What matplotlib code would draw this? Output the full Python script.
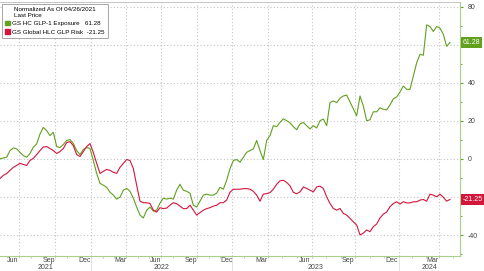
import numpy as np
import matplotlib
matplotlib.use("Agg")
import matplotlib.pyplot as plt
from matplotlib.patches import Patch
import matplotlib.transforms as mtransforms

plt.rcParams['font.family'] = ['Liberation Sans', 'DejaVu Sans']

# Normalized series (sampled per session index)
glp1 = [0.1, 0.5, 0.9, 4.4, 5.8, 5.3, 3.5, 1.8, 0.9, 2.9,
        6.2, 7.9, 13.1, 16.6, 14.9, 12.3, 14.0, 6.5, 6.0, 7.6,
        9.7, 10.2, 8.1, 4.4, 2.3, 5.0, 6.0, 5.5, -0.8, -7.6,
        -12.8, -13.8, -14.9, -17.5, -19.0, -21.1, -20.1, -16.4, -15.5, -17.0,
        -20.6, -25.3, -29.5, -31.0, -26.9, -25.3, -27.4, -26.9, -23.2, -20.6,
        -21.1, -20.6, -21.1, -16.4, -13.3, -16.4, -17.0, -18.0, -24.3, -25.3,
        -22.2, -19.0, -18.5, -19.0, -19.0, -18.0, -14.9, -15.9, -11.2, -5.1,
        -0.8, -0.3, -1.7, 0.8, 3.5, 4.4, 5.3, 9.7, 4.4, -0.3,
        9.7, 12.3, 17.5, 17.0, 19.2, 21.1, 20.1, 19.0, 17.0, 15.4,
        18.4, 19.2, 17.5, 15.8, 17.5, 16.3, 20.1, 21.0, 17.5, 29.6,
        30.5, 29.6, 31.9, 33.1, 33.6, 30.0, 26.3, 22.7, 33.1, 27.9,
        20.1, 20.6, 24.8, 24.8, 26.9, 26.1, 25.8, 28.4, 31.6, 32.6,
        35.2, 38.3, 36.6, 36.6, 43.6, 50.5, 55.0, 54.5, 70.5, 69.6,
        67.0, 69.6, 68.8, 65.5, 59.2, 61.28]

hlc_risk = [-10.3, -8.6, -7.7, -6.0, -4.4, -3.4, -2.3, -2.9, -3.4, -0.8,
            0.3, 2.3, 4.4, 6.3, 6.5, 5.5, 4.4, 2.9, 3.9, 5.5,
            8.6, 9.1, 7.0, 2.3, 1.3, 3.9, 6.5, 8.1, 3.4, -2.3,
            -7.6, -6.5, -5.5, -6.0, -7.0, -7.6, -4.4, -2.3, -0.3, -0.8,
            -5.0, -13.8, -22.2, -23.0, -23.0, -23.4, -26.9, -27.9, -25.6, -26.1,
            -25.8, -24.3, -23.0, -23.5, -24.8, -26.1, -26.1, -24.3, -26.9, -29.5,
            -28.2, -26.9, -26.1, -25.6, -24.8, -24.3, -23.0, -23.0, -21.6, -17.5,
            -15.9, -15.9, -15.9, -15.6, -15.6, -15.9, -17.0, -19.0, -22.2, -18.5,
            -18.2, -17.7, -15.9, -13.3, -11.5, -11.2, -12.3, -14.1, -17.5, -18.3,
            -17.3, -14.7, -15.5, -16.4, -17.3, -14.7, -14.3, -15.5, -19.9, -23.4,
            -26.0, -26.9, -26.0, -28.6, -29.5, -31.2, -33.0, -34.7, -39.9, -39.0,
            -37.3, -38.2, -35.6, -34.2, -31.0, -29.0, -27.9, -25.1, -23.4, -22.5,
            -23.7, -22.5, -23.1, -23.1, -22.5, -22.5, -21.6, -21.3, -22.2, -18.5,
            -19.0, -19.9, -18.5, -20.1, -22.2, -21.25]

# quarter boundaries (session index) and the month that ends before each
qtr_pos = [5.7, 16.5, 27.3, 37.8, 48.3, 59.0, 69.7, 80.3, 93.5, 106.5, 119.7, 131.8]
qtr_months = ["Jun", "Sep", "Dec", "Mar", "Jun", "Sep", "Dec", "Mar", "Jun", "Sep", "Dec", "Mar"]
year_labels = ["2021", "2022", "2023", "2024"]
year_starts = [27.3, 69.7, 119.7]
y_ticks = [-40, -20, 0, 20, 40, 60, 80]

green = "#62a01e"
red = "#d2163c"
axis_green = "#a9cf8a"

x = np.arange(len(glp1))
x_end = 138

fig = plt.figure(figsize=(4.85, 2.71), dpi=100)
ax = fig.add_axes([0, 15 / 271, 460 / 485, 254 / 271])

ax.plot(x, glp1, color=green, lw=0.8)
ax.plot(x, hlc_risk, color=red, lw=0.8)

ax.set_xlim(0, x_end)
ax.set_ylim(-51, 82.5)

# grid
ax.set_yticks(y_ticks)
# labels hidden behind the last-value tags
ax.set_yticklabels(["" if t in (60, -20) else str(t) for t in y_ticks])
ax.set_yticks(np.arange(-50, 81, 10), minor=True)
ax.yaxis.grid(True, which="major", color="#c4c4c4", ls=(0, (1, 2)), lw=0.8)
for q in qtr_pos:
    ax.axvline(q, color="#c4c4c4", ls=(0, (1, 2)), lw=0.8, zorder=0)

# y axis on the right
ax.yaxis.tick_right()
ax.tick_params(axis="y", which="both", direction="out", color=green, labelsize=5,
               labelcolor="#444444", pad=3)
ax.tick_params(axis="y", which="major", length=2.5, width=0.8)
ax.tick_params(axis="y", which="minor", length=1.5, width=0.6)

# x axis: month labels mid-month, minor ticks each month
bounds = [qtr_pos[0] - (qtr_pos[1] - qtr_pos[0])] + qtr_pos
label_pos = [b - (b - a) / 6 for a, b in zip(bounds[:-1], bounds[1:])]
month_ticks = []
for a, b in zip(bounds[:-1], bounds[1:]):
    month_ticks += [a + (b - a) * k / 3 for k in range(3)]
month_ticks += [qtr_pos[-1], qtr_pos[-1] + (qtr_pos[-1] - qtr_pos[-2]) / 3]
ax.set_xticks(label_pos)
ax.set_xticklabels(qtr_months)
ax.set_xticks([m for m in month_ticks if 0 < m < x_end], minor=True)
ax.tick_params(axis="x", which="major", length=0, labelsize=5, labelcolor="#444444", pad=1)
ax.tick_params(axis="x", which="minor", length=1.5, color=axis_green, width=0.6)

# year labels and separators
trans = mtransforms.blended_transform_factory(ax.transData, ax.transAxes)
edges = [0] + year_starts + [x_end]
for yl, a, b in zip(year_labels, edges[:-1], edges[1:]):
    ax.text((a + b) / 2, -0.047, yl, transform=trans, ha="center", va="center",
            fontsize=5, color="#444444")
for ys in year_starts:
    ax.axvline(ys, ymin=-0.07, ymax=0, color="#dddddd", lw=0.6, clip_on=False)

ax.spines["left"].set_visible(False)
ax.spines["top"].set_color("#bbbbbb")
ax.spines["top"].set_linewidth(0.6)
ax.spines["right"].set_color(axis_green)
ax.spines["bottom"].set_color(axis_green)

# last value tags
for val, col in [(glp1[-1], green), (hlc_risk[-1], red)]:
    ax.annotate(f"{val:.2f}", xy=(1, val), xycoords=("axes fraction", "data"),
                xytext=(2, 0), textcoords="offset points", ha="left", va="center",
                fontsize=5, color="white", zorder=10,
                bbox=dict(boxstyle="square,pad=0.3", fc=col, ec="none"))

# legend
handles = [Patch(color=green), Patch(color=red)]
labels = [f"GS HC GLP-1 Exposure   {glp1[-1]:.2f}",
          f"GS Global HLC GLP Risk  {hlc_risk[-1]:.2f}"]
leg = ax.legend(handles, labels, title="Normalized As Of 04/26/2021\nLast Price",
                loc="upper left", bbox_to_anchor=(0, 1), fontsize=4.5, title_fontsize=4.5,
                fancybox=False, edgecolor="#999999", framealpha=1,
                handlelength=0.8, handleheight=0.8, handletextpad=0.4,
                borderpad=0.5, labelspacing=0.45, borderaxespad=0.3)
leg.get_frame().set_linewidth(0.6)

fig.savefig("out.png", dpi=100)
